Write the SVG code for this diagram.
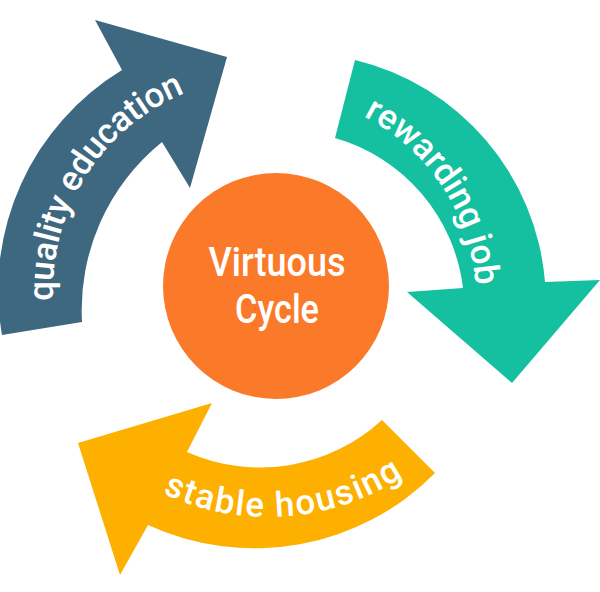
<svg xmlns="http://www.w3.org/2000/svg" xmlns:xlink="http://www.w3.org/1999/xlink" width="600" height="592" viewBox="0 0 600 592">
  <style>
    .lbl { font-family: Roboto, "Liberation Sans", sans-serif; font-weight: 500; fill: #ffffff; }
    .arc { font-size: 35px; }
    .ctr { font-size: 40px; }
  </style>
  <defs>
    <path id="pBlue" d="M 77.3 388.7 A 213 213 0 0 1 274.9 77.2"/>
    <path id="pTeal" d="M 257.4 94.4 A 206 206 0 0 1 454.4 391.9"/>
    <path id="pYellow" d="M 91.8 442.2 A 245 245 0 0 0 466.2 416"/>
  </defs>
  <rect width="600" height="592" fill="#ffffff"/>
  <g id="connectors">
    <g id="arrow-education">
      <path fill="#3e6780" d="M 2 335 A 258 258 0 0 1 122 70 L 95 20 L 227 57 L 190 188 L 162 142 A 216 216 0 0 0 82 322 Z"/>
      <text class="lbl arc"><textPath xlink:href="#pBlue" href="#pBlue" startOffset="50%" text-anchor="middle" textLength="262">quality education</textPath></text>
    </g>
    <g id="arrow-job">
      <path fill="#14c0a0" d="M 355 60 A 249 249 0 0 1 545 282 L 600 280 L 512 383 L 407 292 L 463 288 A 178 178 0 0 0 335 138 Z"/>
      <text class="lbl arc"><textPath xlink:href="#pTeal" href="#pTeal" startOffset="50%" text-anchor="middle" textLength="212">rewarding job</textPath></text>
    </g>
    <g id="arrow-housing">
      <path fill="#fdb000" d="M 382 420 L 435 473 A 254 254 0 0 1 148 525 L 120 575 L 78 443 L 212 403 L 187 452 A 180 180 0 0 0 382 420 Z"/>
      <text class="lbl arc"><textPath xlink:href="#pYellow" href="#pYellow" startOffset="50%" text-anchor="middle" textLength="252">stable housing</textPath></text>
    </g>
  </g>
  <g id="node-center">
    <circle cx="276" cy="286" r="113" fill="#fa7a2a"/>
    <text class="lbl ctr" x="277" y="276" text-anchor="middle" textLength="137" lengthAdjust="spacingAndGlyphs">Virtuous</text>
    <text class="lbl ctr" x="277" y="323" text-anchor="middle" textLength="84" lengthAdjust="spacingAndGlyphs">Cycle</text>
  </g>
</svg>
